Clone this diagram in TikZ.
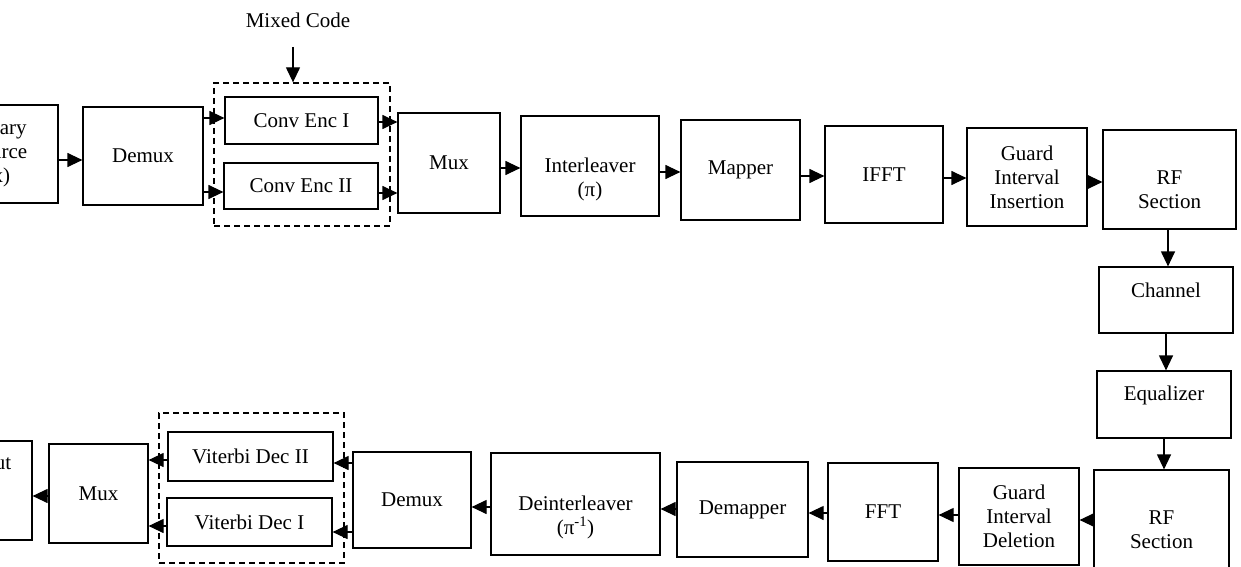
\documentclass[tikz,border=0pt]{standalone}
\usepackage{fontspec}
\setmainfont{Liberation Serif}
\usetikzlibrary{arrows.meta,calc}
\begin{document}
\begin{tikzpicture}[x=1pt,y=-1pt,
  box/.style={draw,line width=1.2pt,inner sep=0pt,align=center,font=\fontsize{21}{24}\selectfont},
  txt/.style={inner sep=0pt,align=center,font=\fontsize{21}{24}\selectfont},
  dbox/.style={draw,line width=1.3pt,dash pattern=on 6pt off 4pt,inner sep=0pt},
  arr/.style={line width=1.2pt,-{Triangle[length=15pt,width=14pt]}}]
\useasboundingbox (0,0) rectangle (1241,567);
% top row
\node[box,minimum width=120pt,minimum height=98pt] (src) at (-2,154) {Binary\\Source\\(x)};
\node[box,minimum width=120pt,minimum height=98pt] (demux1) at (143,156) {Demux};
\node[box,minimum width=153pt,minimum height=47pt] (enc1) at (301.5,120.5) {Conv Enc I};
\node[box,minimum width=154pt,minimum height=46pt] (enc2) at (301,186) {Conv Enc II};
\node[dbox,minimum width=176pt,minimum height=143pt] (dash1) at (302,154.5) {};
\node[txt] (mixed) at (298,20) {Mixed Code};
\coordinate (mcs) at (293,47);
\node[box,minimum width=102pt,minimum height=100pt] (mux1) at (449,163) {Mux};
\node[box,minimum width=138pt,minimum height=100pt] (inter) at (590,166) {};
\node[txt] (interT) at (590,179) {Interleaver\\(π)};
\node[box,minimum width=119pt,minimum height=100pt] (mapper) at (740.5,170) {Mapper};
\node[box,minimum width=118pt,minimum height=97pt] (ifft) at (884,174.5) {IFFT};
\node[box,minimum width=120pt,minimum height=98pt] (gii) at (1027,177) {Guard\\Interval\\Insertion};
\node[box,minimum width=133pt,minimum height=99pt] (rf1) at (1169.5,179.5) {};
\node[txt] (rf1T) at (1169.5,190) {RF\\Section};
% right column
\node[box,minimum width=134pt,minimum height=66pt] (chan) at (1166,300) {};
\node[txt] (chanT) at (1166,290) {Channel};
\node[box,minimum width=134pt,minimum height=67pt] (eq) at (1164,404.5) {};
\node[txt] (eqT) at (1164,395) {Equalizer};
% bottom row
\node[box,minimum width=135pt,minimum height=98pt] (rf2) at (1161.5,519) {};
\node[txt] (rf2T) at (1161.5,530) {RF\\Section};
\node[box,minimum width=120pt,minimum height=97pt] (gid) at (1019,516.5) {Guard\\Interval\\Deletion};
\node[box,minimum width=110pt,minimum height=98pt] (fft) at (883,512) {FFT};
\node[box,minimum width=131pt,minimum height=95pt] (demapper) at (742.5,509.5) {Demapper};
\node[box,minimum width=169pt,minimum height=102pt] (deinter) at (575.5,504) {};
\node[txt] (deinterT) at (575.5,517) {Deinterleaver\\(π\textsuperscript{-1})};
\node[box,minimum width=118pt,minimum height=96pt] (demux2) at (412,500) {Demux};
\node[box,minimum width=165pt,minimum height=49pt] (vit2) at (250.5,456.5) {Viterbi Dec II};
\node[box,minimum width=165pt,minimum height=48pt] (vit1) at (249.5,522) {Viterbi Dec I};
\node[dbox,minimum width=185pt,minimum height=150pt] (dash2) at (251.5,488) {};
\node[box,minimum width=99pt,minimum height=99pt] (mux2) at (98.5,493.5) {Mux};
\node[box,minimum width=100pt,minimum height=99pt] (out) at (-18,490.5) {};
\node[txt] (outT) at (-18,465) {Output};
% connectors top
\draw[arr] (mcs) -- (mcs |- dash1.north);
\draw[arr] (src.east |- 0,160) -- (demux1.west |- 0,160);
\draw[arr] (demux1.east |- 0,118) -- (enc1.west |- 0,118);
\draw[arr] (demux1.east |- 0,192) -- (enc2.west |- 0,192);
\draw[arr] (enc1.east |- 0,122) -- (mux1.west |- 0,122);
\draw[arr] (enc2.east |- 0,193) -- (mux1.west |- 0,193);
\draw[arr] (mux1.east |- 0,168) -- (inter.west |- 0,168);
\draw[arr] (inter.east |- 0,172) -- (mapper.west |- 0,172);
\draw[arr] (mapper.east |- 0,176) -- (ifft.west |- 0,176);
\draw[arr] (ifft.east |- 0,178) -- (gii.west |- 0,178);
\draw[arr] (gii.east |- 0,182) -- (rf1.west |- 0,182);
% right column
\draw[arr] (rf1.south -| 1168,0) -- (chan.north -| 1168,0);
\draw[arr] (chan.south -| 1166,0) -- (eq.north -| 1166,0);
\draw[arr] (eq.south -| 1164,0) -- (rf2.north -| 1164,0);
% bottom row
\draw[arr] (rf2.west |- 0,520) -- (gid.east |- 0,520);
\draw[arr] (gid.west |- 0,515) -- (fft.east |- 0,515);
\draw[arr] (fft.west |- 0,513) -- (demapper.east |- 0,513);
\draw[arr] (demapper.west |- 0,509) -- (deinter.east |- 0,509);
\draw[arr] (deinter.west |- 0,507) -- (demux2.east |- 0,507);
\draw[arr] (demux2.west |- 0,463) -- (vit2.east |- 0,463);
\draw[arr] (demux2.west |- 0,532) -- (vit1.east |- 0,532);
\draw[arr] (vit2.west |- 0,460) -- (mux2.east |- 0,460);
\draw[arr] (vit1.west |- 0,526) -- (mux2.east |- 0,526);
\draw[arr] (mux2.west |- 0,496) -- (out.east |- 0,496);
\end{tikzpicture}
\end{document}
